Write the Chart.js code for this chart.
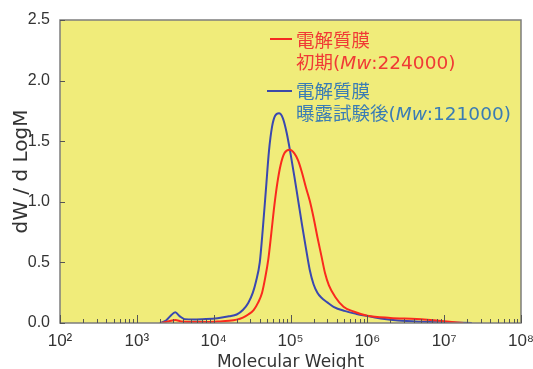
<!DOCTYPE html>
<html>
<head>
<meta charset="utf-8">
<script src="https://cdn.jsdelivr.net/npm/chart.js@4"></script>
<style>
  body { margin: 0; background: #fff; }
  #wrap { position: relative; width: 533px; height: 369px; }
  .leg { position: absolute; font-family: "DejaVu Sans", "Noto Sans CJK JP", sans-serif; font-size: 18.5px; line-height: 22px; white-space: nowrap; }
  .leg i { font-style: italic; }
  .dash { position: absolute; height: 2px; }
</style>
</head>
<body>
<div id="wrap">
  <canvas id="chart" width="533" height="369"></canvas>
  <div class="dash" style="left:270px; top:38px; width:22px; background:#f52a22;"></div>
  <div class="leg" style="left:296px; top:30px; color:#f03a35;">電解質膜<br>初期(<i>Mw</i>:224000)</div>
  <div class="dash" style="left:267px; top:90px; width:25px; background:#3c4aa8;"></div>
  <div class="leg" style="left:296px; top:81px; color:#3a7cb4;">電解質膜<br>曝露試験後(<i>Mw</i>:121000)</div>
</div>
<script>
// log10(M) and dW/dLogM
const logMInitial = [3.32, 3.42, 3.50, 3.58, 3.70, 3.90, 4.05, 4.20, 4.30, 4.38, 4.45, 4.52, 4.58, 4.63, 4.67, 4.71, 4.75, 4.79, 4.83, 4.87, 4.92, 4.99, 5.05, 5.10, 5.15, 5.20, 5.25, 5.30, 5.35, 5.40, 5.45, 5.50, 5.58, 5.69, 5.82, 6.00, 6.30, 6.64, 7.00, 7.25];
const dwInitial   = [0.00, 0.015, 0.025, 0.012, 0.008, 0.008, 0.012, 0.018, 0.028, 0.045, 0.07, 0.107, 0.17, 0.25, 0.37, 0.52, 0.74, 0.97, 1.16, 1.30, 1.40, 1.43, 1.40, 1.34, 1.24, 1.12, 1.01, 0.87, 0.71, 0.56, 0.41, 0.31, 0.217, 0.134, 0.095, 0.06, 0.042, 0.033, 0.015, 0.0];

const logMExposed = [3.30, 3.38, 3.44, 3.50, 3.56, 3.62, 3.75, 3.90, 4.05, 4.20, 4.30, 4.38, 4.45, 4.51, 4.55, 4.60, 4.64, 4.68, 4.72, 4.76, 4.80, 4.85, 4.90, 4.95, 5.00, 5.05, 5.10, 5.15, 5.20, 5.25, 5.30, 5.35, 5.40, 5.48, 5.56, 5.70, 5.86, 6.00, 6.20, 6.40, 6.70, 7.00, 7.36];
const dwExposed   = [0.00, 0.02, 0.06, 0.088, 0.055, 0.032, 0.028, 0.032, 0.04, 0.055, 0.07, 0.107, 0.165, 0.25, 0.34, 0.50, 0.78, 1.10, 1.42, 1.62, 1.71, 1.73, 1.69, 1.57, 1.40, 1.21, 1.01, 0.81, 0.62, 0.44, 0.32, 0.25, 0.21, 0.17, 0.134, 0.10, 0.075, 0.058, 0.035, 0.02, 0.01, 0.005, 0.0];

const xDecades = [2, 3, 4, 5, 6, 7, 8];
const yTicks = [0, 0.5, 1.0, 1.5, 2.0, 2.5];
const sup = { 2: '²', 3: '³', 4: '⁴', 5: '⁵', 6: '⁶', 7: '⁷', 8: '⁸' };

const toPoints = (xs, ys) => xs.map((x, i) => ({ x: x, y: ys[i] }));

// yellow plot area, frame and inward ticks
const framePlugin = {
  id: 'frame',
  beforeDraw(chart) {
    const a = chart.chartArea, ctx = chart.ctx;
    ctx.save();
    ctx.fillStyle = '#f0ec7a';
    ctx.fillRect(a.left, a.top, a.right - a.left, a.bottom - a.top);
    ctx.restore();
  },
  afterDraw(chart) {
    const a = chart.chartArea, ctx = chart.ctx;
    const xs = chart.scales.x, ys = chart.scales.y;
    ctx.save();
    ctx.strokeStyle = '#7d7d7d';
    ctx.lineWidth = 1.5;
    ctx.strokeRect(a.left, a.top, a.right - a.left, a.bottom - a.top);
    ctx.lineWidth = 1;
    ctx.strokeStyle = '#555';
    ctx.beginPath();
    xDecades.forEach(d => {
      const px = Math.round(xs.getPixelForValue(d)) + 0.5;
      ctx.moveTo(px, a.bottom); ctx.lineTo(px, a.bottom - 8);
      if (d < 8) {
        for (let k = 2; k <= 9; k++) {
          const p = Math.round(xs.getPixelForValue(d + Math.log10(k))) + 0.5;
          ctx.moveTo(p, a.bottom); ctx.lineTo(p, a.bottom - 4);
        }
      }
    });
    yTicks.forEach(v => {
      const py = Math.round(ys.getPixelForValue(v)) + 0.5;
      ctx.moveTo(a.left, py); ctx.lineTo(a.left + 5, py);
    });
    ctx.stroke();
    ctx.restore();
  }
};

new Chart(document.getElementById('chart'), {
  type: 'line',
  data: {
    datasets: [
      {
        label: '電解質膜 初期(Mw:224000)',
        data: toPoints(logMInitial, dwInitial),
        borderColor: '#fa2a1e',
        borderWidth: 2,
        pointRadius: 0,
        cubicInterpolationMode: 'monotone'
      },
      {
        label: '電解質膜 曝露試験後(Mw:121000)',
        data: toPoints(logMExposed, dwExposed),
        borderColor: '#3a48b0',
        borderWidth: 2,
        pointRadius: 0,
        cubicInterpolationMode: 'monotone'
      }
    ]
  },
  options: {
    responsive: false,
    animation: false,
    layout: { padding: { left: 0, right: 12, top: 20, bottom: 0 } },
    plugins: { legend: { display: false }, tooltip: { enabled: false } },
    scales: {
      x: {
        type: 'linear',
        min: 2,
        max: 8,
        afterBuildTicks: s => { s.ticks = xDecades.map(v => ({ value: v })); },
        afterFit: s => { s.height = 46; s.paddingLeft = 0; s.paddingRight = 0; },
        grid: { display: false, drawTicks: false },
        border: { display: false },
        ticks: {
          padding: 8,
          maxRotation: 0,
          color: '#333',
          font: { family: 'Liberation Sans', size: 17 },
          callback: v => '10' + sup[v]
        },
        title: {
          display: true,
          text: 'Molecular Weight',
          color: '#333',
          font: { family: 'DejaVu Sans', size: 17 },
          padding: { top: 0, bottom: -4 }
        }
      },
      y: {
        min: 0,
        max: 2.5,
        afterBuildTicks: s => { s.ticks = yTicks.map(v => ({ value: v })); },
        afterFit: s => { s.width = 60; },
        grid: { display: false, drawTicks: false },
        border: { display: false },
        ticks: {
          padding: 10,
          color: '#333',
          font: { family: 'Liberation Sans', size: 16 },
          callback: v => v.toFixed(1)
        },
        title: {
          display: true,
          text: 'dW / d LogM',
          color: '#333',
          font: { family: 'DejaVu Sans', size: 20 },
          padding: { top: 10, bottom: 0 }
        }
      }
    }
  },
  plugins: [framePlugin]
});
</script>
</body>
</html>
